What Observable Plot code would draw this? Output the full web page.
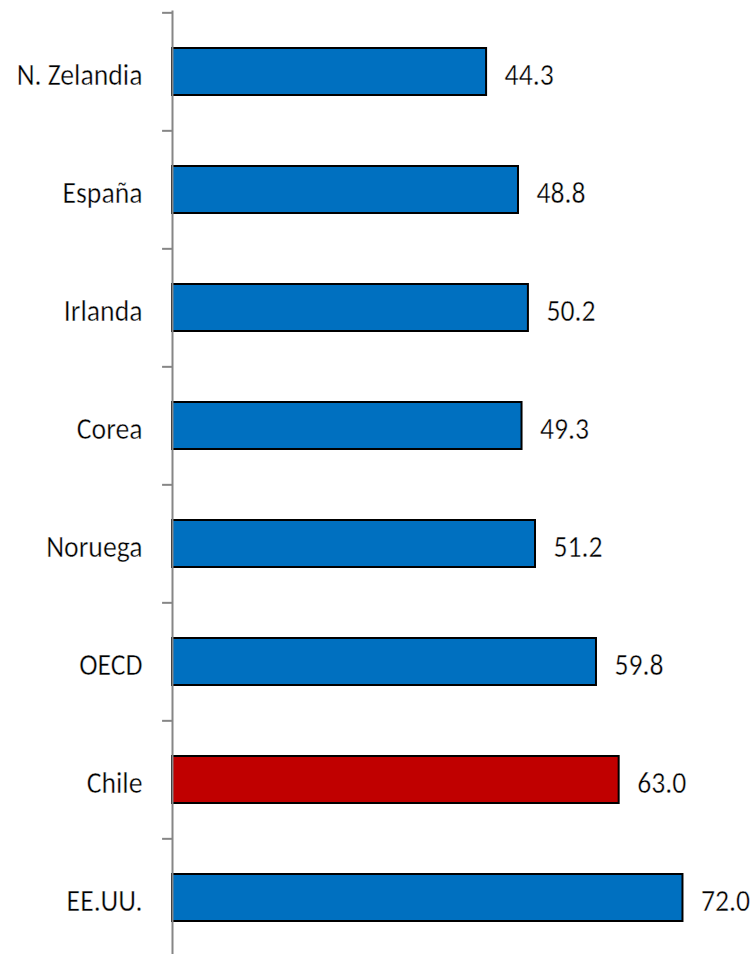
<!DOCTYPE html>
<html>
<head>
<meta charset="utf-8">
<script src="https://cdn.jsdelivr.net/npm/d3@7"></script>
<script src="https://cdn.jsdelivr.net/npm/@observablehq/plot@0.6"></script>
<style>
  html, body { margin: 0; padding: 0; background: #fff; }
  #chart svg { display: block; }
  #chart svg text { stroke: #fff; stroke-width: 0.4px; paint-order: normal; }
</style>
</head>
<body>
<div id="chart"></div>
<script>
const countries = ["N. Zelandia", "España", "Irlanda", "Corea", "Noruega", "OECD", "Chile", "EE.UU."];
const values = [44.3, 48.8, 50.2, 49.3, 51.2, 59.8, 63.0, 72.0];
const highlight = "Chile";

const data = countries.map((c, i) => ({country: c, value: values[i]}));

const W = 756, H = 954;
const topM = 10.5, step = 118.33;
const font = "Carlito, 'Open Sans', sans-serif";
const fs = 31.5;
const squeeze = 0.88;

const chart = Plot.plot({
  width: W,
  height: H,
  marginLeft: 172,
  marginRight: 0,
  marginTop: topM,
  marginBottom: 0,
  style: {fontFamily: font, background: "#fff"},
  x: {domain: [0, 82.37], axis: null},
  y: {
    domain: countries,
    range: [topM, topM + step * countries.length],
    paddingInner: 0.605,
    paddingOuter: 0.3025
  },
  marks: [
    Plot.barX(data, {
      y: "country",
      x: "value",
      fill: d => d.country === highlight ? "#C00000" : "#0070C0",
      stroke: "#000",
      strokeWidth: 2
    }),
    Plot.ruleX([0], {stroke: "#868686", strokeWidth: 2}),
    Plot.ruleY(countries, {
      y: d => d,
      dy: -step / 2,
      x1: -1.4,
      x2: 0,
      stroke: "#868686",
      strokeWidth: 2,
      clip: false
    }),
    Plot.text(data, {
      y: "country",
      x: "value",
      text: d => d.value.toFixed(1),
      dx: 18,
      dy: 3,
      textAnchor: "start",
      fontSize: fs,
      fill: "#000"
    }),
    Plot.axisY({
      tickSize: 0,
      tickPadding: 30,
      fontSize: fs,
      dy: 3,
      label: null,
      color: "#000"
    })
  ]
});

// narrow the glyphs horizontally, around each label's own anchor
chart.querySelectorAll("text").forEach(t => {
  const tr = t.getAttribute("transform");
  if (tr) {
    t.setAttribute("transform", tr + ` scale(${squeeze},1)`);
  } else {
    const x = +(t.getAttribute("x") || 0), y = +(t.getAttribute("y") || 0);
    t.setAttribute("transform", `translate(${x},${y}) scale(${squeeze},1) translate(${-x},${-y})`);
  }
});

document.getElementById("chart").appendChild(chart);
</script>
</body>
</html>
